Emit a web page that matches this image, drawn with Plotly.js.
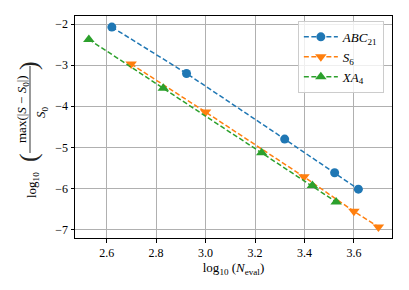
<!DOCTYPE html>
<html>
<head>
<meta charset="utf-8">
<script src="https://cdn.plot.ly/plotly-3.0.1.min.js"></script>
<style>html,body{margin:0;padding:0;background:#fff;}#chart{width:409px;height:290px;}</style>
</head>
<body>
<div id="chart"></div>
<script>
// Data
const abcX = [2.621, 2.923, 3.320, 3.522, 3.618];
const abcY = [-2.07, -3.20, -4.80, -5.62, -6.02];
const s6X = [2.699, 3.000, 3.398, 3.600, 3.699];
const s6Y = [-2.97, -4.14, -5.72, -6.56, -6.94];
const xaX = [2.528, 2.829, 3.227, 3.432, 3.528];
const xaY = [-2.37, -3.56, -5.13, -5.93, -6.33];
const seriesNames = ['<i>ABC</i><sub>21</sub>', '<i>S</i><sub>6</sub>', '<i>XA</i><sub>4</sub>'];
const xTicks = [2.6, 2.8, 3.0, 3.2, 3.4, 3.6];
const yTicks = [-7, -6, -5, -4, -3, -2];

const FONT = 'Liberation Serif';
const dash = '5px,2.5px';

const traces = [
  {x: abcX, y: abcY, name: seriesNames[0], mode: 'lines+markers',
   line: {color: '#1f77b4', width: 1.5, dash: dash},
   marker: {symbol: 'circle', size: 9, color: '#1f77b4'}},
  {x: s6X, y: s6Y, name: seriesNames[1], mode: 'lines+markers',
   line: {color: '#ff7f0e', width: 1.5, dash: dash},
   marker: {symbol: 'triangle-down', size: 10, color: '#ff7f0e'}},
  {x: xaX, y: xaY, name: seriesNames[2], mode: 'lines+markers',
   line: {color: '#2ca02c', width: 1.5, dash: dash},
   marker: {symbol: 'triangle-up', size: 10, color: '#2ca02c'}}
];

const L = 75, R = 392, T = 16, B = 238;
function px2paperY(py){ return (B - py) / (B - T); }

const layout = {
  width: 409, height: 290,
  margin: {l: L, r: 409 - R, t: T, b: 290 - B, pad: 0},
  paper_bgcolor: '#fff', plot_bgcolor: '#fff',
  font: {family: FONT, size: 12, color: '#000'},
  showlegend: true,
  legend: {x: 0.703, y: 0.978, xanchor: 'left', yanchor: 'top',
    bgcolor: 'rgba(255,255,255,0.8)', bordercolor: '#cccccc', borderwidth: 1,
    font: {family: FONT, size: 13}, itemwidth: 34, tracegroupgap: 0},
  xaxis: {range: [2.472, 3.754], tickvals: xTicks, ticktext: xTicks.map(v => v.toFixed(1)),
    showgrid: true, gridcolor: '#b0b0b0', gridwidth: 1, zeroline: false,
    showline: true, linecolor: '#000', linewidth: 1, mirror: true,
    ticks: 'outside', ticklen: 3.5, tickcolor: '#000', tickfont: {size: 12},
    title: {text: 'log<sub>10</sub> (<i>N</i><sub>eval</sub>)', font: {size: 13}, standoff: 2}},
  yaxis: {range: [-7.21, -1.80], tickvals: yTicks, ticktext: yTicks.map(v => '\u2212' + Math.abs(v)),
    showgrid: true, gridcolor: '#b0b0b0', gridwidth: 1, zeroline: false,
    showline: true, linecolor: '#000', linewidth: 1, mirror: true,
    ticks: 'outside', ticklen: 3.5, tickcolor: '#000', tickfont: {size: 12}},
  annotations: [
    {text: 'log<sub>10</sub>', xref: 'paper', yref: 'paper', x: 0, y: px2paperY(185), xshift: 32 - L,
     textangle: -90, showarrow: false, xanchor: 'center', yanchor: 'middle', font: {size: 13}},
    {text: '(', xref: 'paper', yref: 'paper', x: 0, y: px2paperY(158), xshift: 28 - L,
     textangle: -90, showarrow: false, xanchor: 'center', yanchor: 'middle', font: {size: 26, color: '#222'}},
    {text: ')', xref: 'paper', yref: 'paper', x: 0, y: px2paperY(66), xshift: 28 - L,
     textangle: -90, showarrow: false, xanchor: 'center', yanchor: 'middle', font: {size: 26, color: '#222'}},
    {text: 'max(|<i>S</i> \u2212 <i>S</i><sub>0</sub>|)', xref: 'paper', yref: 'paper', x: 0, y: px2paperY(109), xshift: 22 - L,
     textangle: -90, showarrow: false, xanchor: 'center', yanchor: 'middle', font: {size: 13}},
    {text: '<i>S</i><sub>0</sub>', xref: 'paper', yref: 'paper', x: 0, y: px2paperY(112), xshift: 41 - L,
     textangle: -90, showarrow: false, xanchor: 'center', yanchor: 'middle', font: {size: 13}}
  ],
  shapes: [
    {type: 'line', xref: 'paper', yref: 'paper', x0: (30 - L) / (R - L), x1: (30 - L) / (R - L),
     y0: px2paperY(153), y1: px2paperY(66), line: {color: '#000', width: 0.8}}
  ]
};

Plotly.newPlot('chart', traces, layout, {displayModeBar: false, staticPlot: true});
</script>
</body>
</html>
